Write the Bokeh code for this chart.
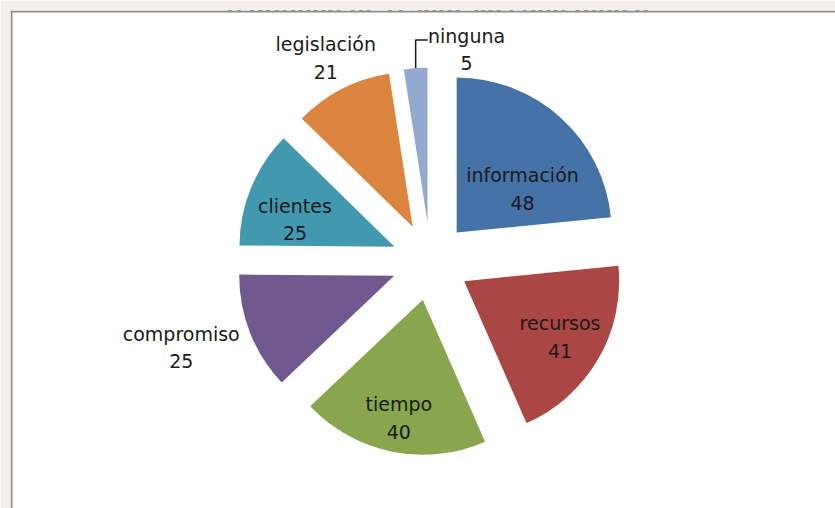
import math
from bokeh.plotting import figure
from bokeh.models import ColumnDataSource, Range1d, Span, Label, BoxAnnotation
from bokeh.core.properties import value
from bokeh.embed import file_html
from bokeh.resources import INLINE

# ---- data ----
categories = ["información", "recursos", "tiempo", "compromiso", "clientes", "legislación", "ninguna"]
counts = [48, 41, 40, 25, 25, 21, 5]
colors = ["#4572A7", "#AA4643", "#89A54E", "#71588F", "#4198AF", "#DB843D", "#93A9CF"]
title_text = "(cantidad de respuestas obtenidas)"

# ---- layout (pixel-like data space, y up = -page_y) ----
CX, CY = 430.0, -261.0
R = 155.0
EXPLODE = 39.0
label_dist = [0.51, 0.716, 0.78, 1.45, 0.665, 1.226, 1.144]   # fraction of R from slice apex
label_rot = [-14.2, 0.0, 0.0, -2.9, 7.2, 0.0, -17.1]           # degrees off the bisector
LINE_GAP = 13.75

total = float(sum(counts))
xs, ys, starts, ends, mids = [], [], [], [], []
cum = 0.0
for c in counts:
    a_hi = 90.0 - cum * 360.0 / total
    cum += c
    a_lo = 90.0 - cum * 360.0 / total
    mid = math.radians((a_lo + a_hi) / 2.0)
    xs.append(CX + EXPLODE * math.cos(mid))
    ys.append(CY + EXPLODE * math.sin(mid))
    starts.append(math.radians(a_lo))
    ends.append(math.radians(a_hi))
    mids.append(mid)

src = ColumnDataSource(dict(x=xs, y=ys, start=starts, end=ends, color=colors))

W, H = 835, 508
BL, BT = 10, 10
p = figure(width=W, height=H, x_range=Range1d(BL, W), y_range=Range1d(-H, -BT),
           x_axis_type=None, y_axis_type=None, toolbar_location=None,
           output_backend="svg", min_border_left=BL, min_border_top=BT,
           min_border_right=0, min_border_bottom=0)
p.grid.visible = False
p.outline_line_color = None
p.background_fill_color = "white"
p.border_fill_color = "#f6eeea"

p.wedge(x="x", y="y", radius=R, start_angle="start", end_angle="end",
        direction="anticlock", fill_color="color", line_color=None, source=src)

# labels
nx, ny, vx, vy = [], [], [], []
for i in range(len(counts)):
    a = mids[i] + math.radians(label_rot[i])
    cx = xs[i] + label_dist[i] * R * math.cos(a)
    cy = ys[i] + label_dist[i] * R * math.sin(a)
    nx.append(cx); ny.append(cy + LINE_GAP)
    vx.append(cx); vy.append(cy - LINE_GAP)
lsrc = ColumnDataSource(dict(nx=nx, ny=ny, vx=vx, vy=vy, cat=categories,
                             val=[str(v) for v in counts]))
p.text(x="nx", y="ny", text="cat", source=lsrc, text_align="center",
       text_baseline="middle", text_font=value("DejaVu Sans"),
       text_font_size="19px", text_color="#1a1a1a")
p.text(x="vx", y="vy", text="val", source=lsrc, text_align="center",
       text_baseline="middle", text_font=value("DejaVu Sans"),
       text_font_size="19px", text_color="#1a1a1a")

# leader line for the smallest slice
k = len(counts) - 1
x0 = xs[k] + R * math.cos(mids[k])
y0 = ys[k] + R * math.sin(mids[k])
yl = ny[k] - 4
p.line([x0, x0, x0 + 12], [y0, yl, yl], line_color="#1a1a1a", line_width=1.5)

# partially visible title above the box (the box hides its lower part)
p.add_layout(Label(x=438, y=-4, x_units="data", y_units="data", text=title_text,
                   text_align="center", text_baseline="alphabetic",
                   text_font="Liberation Serif", text_font_style="bold italic",
                   text_font_size="30px", text_color="black"))
p.add_layout(BoxAnnotation(left=BL, right=W, top=-BT, bottom=-(BT + 14),
                           fill_color="white", fill_alpha=1.0, line_color=None))

# chart box border (top and left visible)
p.add_layout(Span(location=BL + 1, dimension="height", line_color="#8c8c8c", line_width=2))
p.add_layout(Span(location=-(BT + 1), dimension="width", line_color="#8c8c8c", line_width=2))

open("out.html", "w").write(file_html(p, INLINE))
